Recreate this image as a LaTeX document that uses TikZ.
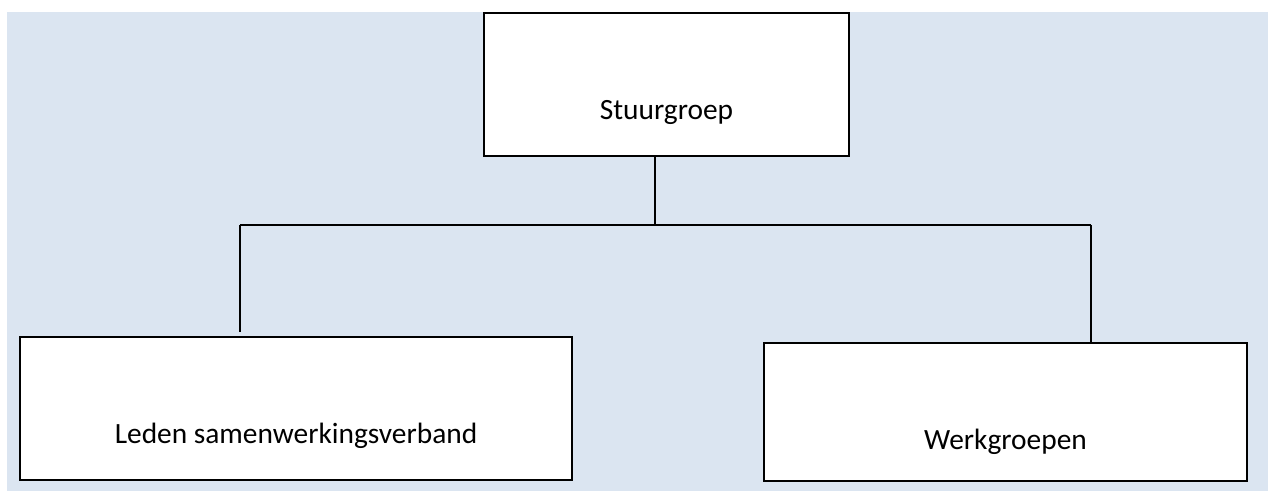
\documentclass[tikz,border=0pt]{standalone}
\usepackage{fontspec}
\setmainfont{Carlito}
\definecolor{bgblue}{RGB}{219,229,241}

\begin{document}
\begin{tikzpicture}[x=0.5pt,y=-0.5pt,line width=1pt]
  \tikzstyle{unit}=[draw=black,fill=white,inner sep=0pt,anchor=north west,
    text height=53pt,font=\fontsize{14.7}{17}\selectfont]

  \useasboundingbox (0,0) rectangle (1268,491);
  \fill[bgblue] (7,12) rectangle (1268,491);

  \node[unit,minimum width=182.5pt,text depth=18.5pt] at (483,12.5) (stuur) {Stuurgroep};

  \node[unit,minimum width=276pt,text depth=18.5pt] at (19,336) (leden) {Leden samenwerkingsverband};

  \node[unit,minimum width=241.5pt,text depth=16pt] at (763,342) (werk) {Werkgroepen};

  \coordinate (fork) at (655,225);
  \coordinate (forkl) at (240,225);
  \coordinate (forkr) at (1091,225);

  \draw (stuur.south -| fork) -- (fork);
  \draw (forkl) -- (forkr);
  \draw (forkl) -- ([yshift=2pt]forkl |- leden.north);
  \draw (forkr) -- (forkr |- werk.north);

\end{tikzpicture}
\end{document}
